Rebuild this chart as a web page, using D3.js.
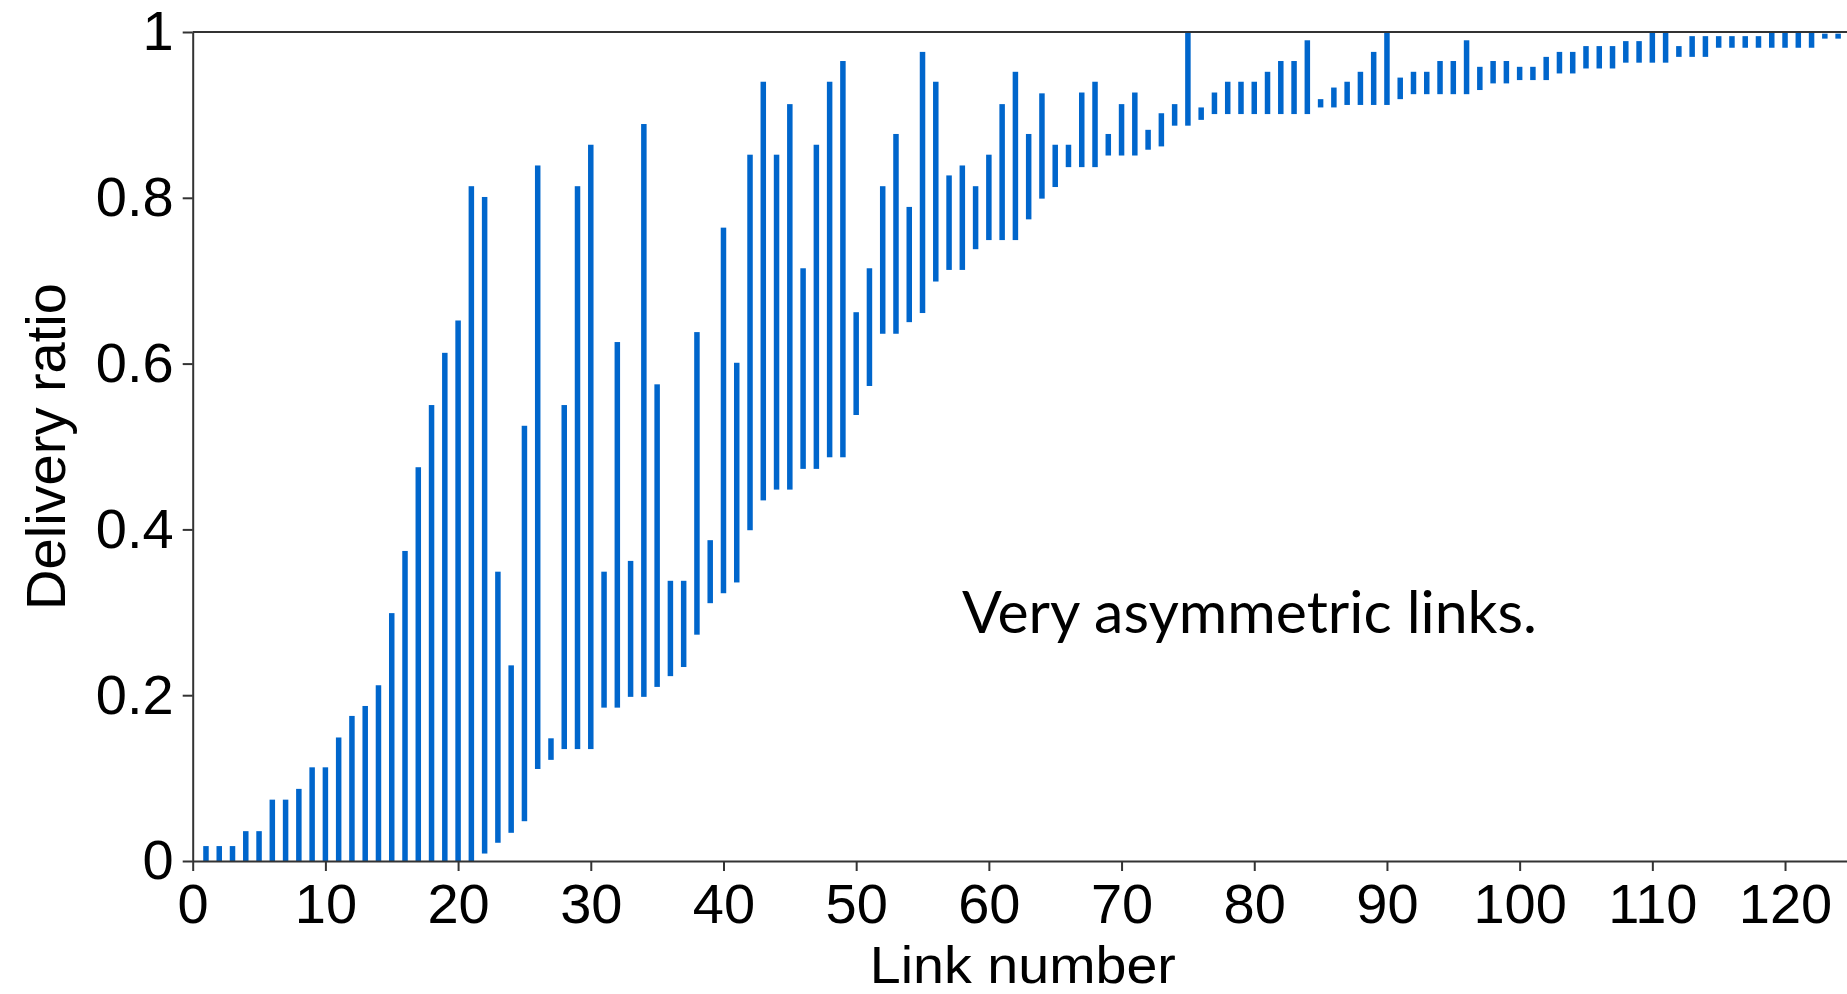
<!DOCTYPE html>
<html>
<head>
<meta charset="utf-8">
<script src="https://cdn.jsdelivr.net/npm/d3@7"></script>
<style>
  html, body { margin: 0; padding: 0; background: #fff; }
  svg { display: block; }
  .axis text { font-family: "Liberation Sans", Arial, sans-serif; font-size: 56px; fill: #000; }
  .axis path, .axis line { stroke: #333; stroke-width: 2; }
  .axis-label { font-family: "Liberation Sans", Arial, sans-serif; font-size: 56px; fill: #000; }
  .note { font-family: Lato, "Open Sans", sans-serif; font-size: 58px; fill: #000; }
</style>
</head>
<body>
<div id="chart"></div>
<script>
// link numbers 1..124, each with a low / high delivery ratio
const linkNumbers = d3.range(1, 125);

const lowRatio = [
  0, 0, 0, 0, 0, 0, 0, 0, 0, 0,
  0, 0, 0, 0, 0, 0, 0, 0, 0, 0,
  0, 0.009, 0.022, 0.034, 0.048, 0.111, 0.122, 0.135, 0.135, 0.135,
  0.185, 0.185, 0.198, 0.198, 0.210, 0.223, 0.234, 0.273, 0.311, 0.323,
  0.336, 0.399, 0.435, 0.448, 0.448, 0.473, 0.473, 0.487, 0.487, 0.538,
  0.573, 0.636, 0.636, 0.650, 0.661, 0.699, 0.713, 0.713, 0.738, 0.749,
  0.749, 0.749, 0.774, 0.799, 0.813, 0.837, 0.837, 0.837, 0.851, 0.851,
  0.851, 0.858, 0.862, 0.887, 0.887, 0.894, 0.901, 0.901, 0.901, 0.901,
  0.901, 0.901, 0.901, 0.901, 0.909, 0.909, 0.912, 0.912, 0.912, 0.912,
  0.919, 0.925, 0.925, 0.925, 0.925, 0.925, 0.930, 0.938, 0.938, 0.942,
  0.942, 0.942, 0.950, 0.950, 0.956, 0.956, 0.956, 0.963, 0.963, 0.963,
  0.963, 0.970, 0.970, 0.970, 0.981, 0.981, 0.981, 0.981, 0.981, 0.981,
  0.981, 0.981, 0.992, 0.992
];

const highRatio = [
  0.018, 0.018, 0.018, 0.036, 0.036, 0.074, 0.074, 0.087, 0.113, 0.113,
  0.149, 0.175, 0.187, 0.212, 0.299, 0.374, 0.475, 0.550, 0.613, 0.652,
  0.814, 0.801, 0.349, 0.236, 0.525, 0.839, 0.148, 0.550, 0.814, 0.864,
  0.349, 0.626, 0.362, 0.889, 0.575, 0.338, 0.338, 0.638, 0.387, 0.764,
  0.601, 0.852, 0.940, 0.852, 0.913, 0.715, 0.864, 0.940, 0.965, 0.662,
  0.715, 0.814, 0.877, 0.789, 0.976, 0.940, 0.827, 0.839, 0.814, 0.852,
  0.913, 0.952, 0.877, 0.926, 0.864, 0.864, 0.927, 0.940, 0.877, 0.913,
  0.927, 0.882, 0.902, 0.913, 1.000, 0.909, 0.927, 0.940, 0.940, 0.940,
  0.952, 0.965, 0.965, 0.990, 0.919, 0.933, 0.940, 0.952, 0.976, 1.000,
  0.945, 0.952, 0.952, 0.965, 0.965, 0.990, 0.958, 0.965, 0.965, 0.958,
  0.958, 0.970, 0.976, 0.976, 0.983, 0.983, 0.983, 0.989, 0.989, 1.000,
  1.000, 0.983, 0.995, 0.995, 0.995, 0.995, 0.995, 0.995, 1.000, 1.000,
  1.000, 1.000, 0.998, 0.998
];

const xTicks = [0, 10, 20, 30, 40, 50, 60, 70, 80, 90, 100, 110, 120];
const yTicks = [0, 0.2, 0.4, 0.6, 0.8, 1];

const data = linkNumbers.map((n, i) => ({ link: n, low: lowRatio[i], high: highRatio[i] }));

const W = 1847, H = 994;
const plot = { left: 192.7, right: 1847, top: 32, bottom: 861 };

const svg = d3.select("#chart").append("svg")
  .attr("width", W)
  .attr("height", H);

const x = d3.scaleLinear()
  .domain([0, 124.67])
  .range([plot.left, plot.right]);

const y = d3.scaleLinear()
  .domain([0, 1])
  .range([plot.bottom, plot.top]);

// bars from low to high ratio
const barW = 5.5;
svg.append("g")
  .selectAll("rect")
  .data(data)
  .join("rect")
  .attr("x", d => x(d.link) - barW / 2)
  .attr("width", barW)
  .attr("y", d => y(d.high))
  .attr("height", d => Math.max(y(d.low) - y(d.high), 1.5))
  .attr("fill", "#0066cc");

// top frame line
svg.append("line")
  .attr("x1", plot.left).attr("x2", plot.right)
  .attr("y1", y(1)).attr("y2", y(1))
  .attr("stroke", "#333")
  .attr("stroke-width", 2);

// axes
svg.append("g")
  .attr("class", "axis")
  .attr("transform", `translate(0,${plot.bottom})`)
  .call(d3.axisBottom(x).tickValues(xTicks).tickSize(10).tickSizeOuter(0).tickPadding(12))
  .call(g => g.selectAll("text").attr("dy", "0.71em"));

svg.append("g")
  .attr("class", "axis")
  .attr("transform", `translate(${plot.left},0)`)
  .call(d3.axisLeft(y).tickValues(yTicks).tickSize(10).tickSizeOuter(0).tickPadding(9)
    .tickFormat(d3.format("~g")));

svg.selectAll(".axis .domain").attr("stroke", "#333");

// axis titles
svg.append("text")
  .attr("class", "axis-label")
  .attr("text-anchor", "middle")
  .attr("transform", `translate(65,${(plot.top + plot.bottom) / 2}) rotate(-90)`)
  .text("Delivery ratio");

svg.append("text")
  .attr("class", "axis-label")
  .attr("text-anchor", "middle")
  .style("font-size", "52px")
  .attr("x", (plot.left + plot.right) / 2 + 3)
  .attr("y", 982.5)
  .attr("textLength", 306)
  .attr("lengthAdjust", "spacingAndGlyphs")
  .text("Link number");

// annotation
svg.append("text")
  .attr("class", "note")
  .attr("x", 962)
  .attr("y", 633)
  .attr("textLength", 575)
  .attr("lengthAdjust", "spacingAndGlyphs")
  .text("Very asymmetric links.");
</script>
</body>
</html>
